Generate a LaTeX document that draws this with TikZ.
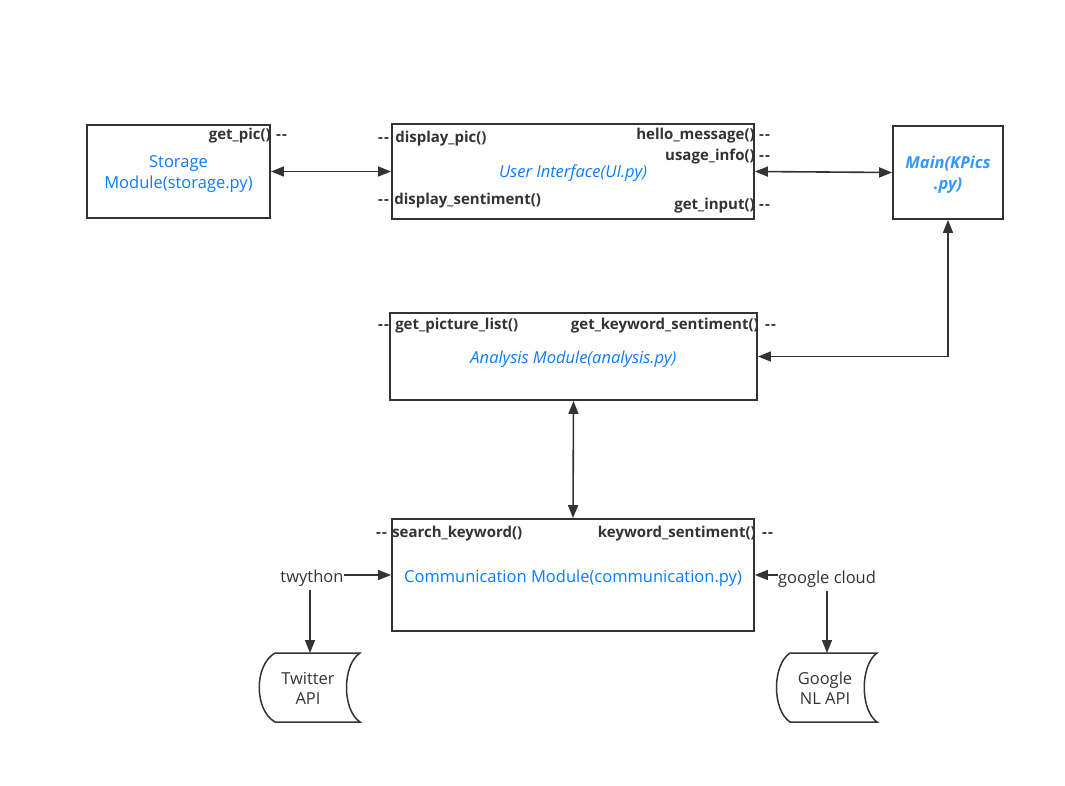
\documentclass[tikz,border=0pt]{standalone}
\usepackage{fontspec}
\setmainfont{Open Sans}
\usetikzlibrary{arrows.meta,calc}
\definecolor{ink}{HTML}{333333}
\definecolor{modblue}{HTML}{0A7CFF}
\definecolor{mainblue}{HTML}{3399FF}

\tikzset{
  module/.style={draw=ink, line width=1.9pt, inner sep=0pt},
  modtext/.style={inner sep=0pt, text=modblue, font=\fontsize{16.5}{21}\selectfont, align=center},
  fn/.style={inner sep=0pt, text=ink, font=\bfseries\fontsize{15}{17}\selectfont},
  plain/.style={inner sep=0pt, text=ink, font=\fontsize{16.5}{20}\selectfont, align=center},
  link/.style={draw=ink, line width=1.6pt},
  tip/.style={-{Triangle[length=13pt,width=10pt]}},
  both/.style={{Triangle[length=13pt,width=10pt]}-{Triangle[length=13pt,width=10pt]}},
  store/.style={draw=ink, line width=1.5pt}
}
\newcommand{\dashpair}{-\kern1.2pt-}

\begin{document}
\begin{tikzpicture}[x=1pt,y=-1pt]
  \useasboundingbox (0,0) rectangle (1065,785);

  % module boxes
  \node[module, minimum width=183pt, minimum height=93pt] (st) at (178.5,171.5) {};
  \node[module, minimum width=362pt, minimum height=95pt] (ui) at (573,171.5) {};
  \node[module, minimum width=110pt, minimum height=93pt] (main) at (948,172.5) {};
  \node[module, minimum width=367pt, minimum height=87pt] (an) at (573.5,356.5) {};
  \node[module, minimum width=362pt, minimum height=112pt] (cm) at (573,575) {};

  % module titles
  \node[modtext] (stT) at ($(st)+(0,3)$) {Storage\\Module(storage.py)};
  \node[modtext] (uiT) at ($(ui)+(0,2)$) {\itshape User Interface(UI.py)};
  \node[modtext, text=mainblue] (mainT) at ($(main)+(0,2)$)
    {\bfseries\itshape Main(KPics\\\bfseries\itshape .py)};
  \node[modtext] (anT) at ($(an)+(0,3)$) {\itshape Analysis Module(analysis.py)};
  \node[modtext] (cmT) at ($(cm)+(0,3)$) {Communication Module(communication.py)};

  % function labels of the storage module
  \node[fn, anchor=base east] at ($(st.north east)+(0,15)$) {get\_pic()};
  \node[fn, anchor=base west] at ($(st.north east)+(5,15)$) {\dashpair};

  % function labels of the user interface
  \node[fn, anchor=base west] at ($(ui.north west)+(4,19)$) {display\_pic()};
  \node[fn, anchor=base east] at ($(ui.north west)+(-2,19)$) {\dashpair};
  \node[fn, anchor=base west] at ($(ui.north west)+(3,81)$) {display\_sentiment()};
  \node[fn, anchor=base east] at ($(ui.north west)+(-2,81)$) {\dashpair};
  \node[fn, anchor=base east] at ($(ui.north east)+(0,16)$) {hello\_message()};
  \node[fn, anchor=base west] at ($(ui.north east)+(4,16)$) {\dashpair};
  \node[fn, anchor=base east] at ($(ui.north east)+(0,37)$) {usage\_info()};
  \node[fn, anchor=base west] at ($(ui.north east)+(4,37)$) {\dashpair};
  \node[fn, anchor=base east] at ($(ui.north east)+(0,86)$) {get\_input()};
  \node[fn, anchor=base west] at ($(ui.north east)+(4,86)$) {\dashpair};

  % function labels of the analysis module
  \node[fn, anchor=base west] at ($(an.north west)+(6,17)$) {get\_picture\_list()};
  \node[fn, anchor=base east] at ($(an.north west)+(0,17)$) {\dashpair};
  \node[fn, anchor=base east] at ($(an.north east)+(1,17)$) {get\_keyword\_sentiment()};
  \node[fn, anchor=base west] at ($(an.north east)+(7,17)$) {\dashpair};

  % function labels of the communication module
  \node[fn, anchor=base west] at ($(cm.north west)+(1,19)$) {search\_keyword()};
  \node[fn, anchor=base east] at ($(cm.north west)+(-4,19)$) {\dashpair};
  \node[fn, anchor=base east] at ($(cm.north east)+(1,19)$) {keyword\_sentiment()};
  \node[fn, anchor=base west] at ($(cm.north east)+(7,19)$) {\dashpair};

  % libraries
  \node[plain, anchor=base] (tw) at (312,582) {twython};
  \node[plain, anchor=base] (gc) at (827,583) {google cloud};

  % external services (stored-data shapes)
  \draw[store] (275,653) -- (360,653) .. controls (342,665) and (342,710) .. (360,722)
    -- (275,722) .. controls (254,710) and (254,665) .. (275,653) -- cycle;
  \coordinate (twapi) at (310,653);
  \node[plain] (twL) at (308,688) {Twitter\\API};
  \draw[store] (790,653) -- (877,653) .. controls (860,665) and (860,710) .. (877,722)
    -- (790,722) .. controls (772,710) and (772,665) .. (790,653) -- cycle;
  \coordinate (gapi) at (827,653);
  \node[plain] (gL) at (825,688) {Google\\NL API};

  % connectors
  \draw[link, both] (st.east) -- (ui.west);
  \draw[link, both] (ui.east) -- (main.west);
  \draw[link, both] (main.south) |- (an.east);
  \draw[link, both] (an.south) -- (cm.north);
  \draw[link, tip] (tw.east |- cm.west) -- (cm.west);
  \draw[link, tip] (gc.west |- cm.east) -- (cm.east);
  \draw[link, tip] ([xshift=-2pt]tw.south) ++(0,4) -- (twapi);
  \draw[link, tip] (gc.south) ++(0,4) -- (gapi);
\end{tikzpicture}
\end{document}
